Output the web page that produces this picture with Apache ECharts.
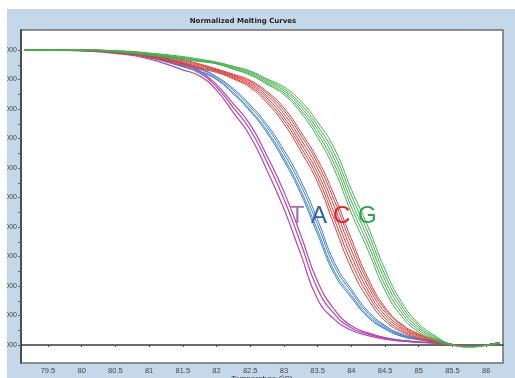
<!DOCTYPE html>
<html>
<head>
<meta charset="utf-8">
<script src="https://cdn.jsdelivr.net/npm/echarts@6.0.0/dist/echarts.min.js"></script>
<style>
  html, body { margin: 0; padding: 0; background: #fff; }
  #chart { width: 515px; height: 378px; }
</style>
</head>
<body>
<div id="chart"></div>
<script>
// temperature grid (°C) shared by every replicate
const temps = [79.15, 79.5, 80, 80.5, 81, 81.5, 81.75, 82, 82.25, 82.5, 82.75, 83, 83.25, 83.5, 83.75, 84, 84.25, 84.5, 84.75, 85, 85.25, 85.5, 85.75, 86, 86.2];

// T replicates (magenta)
const tRep1 = [1.000, 1.000, 0.997, 0.989, 0.970, 0.933, 0.912, 0.864, 0.788, 0.708, 0.592, 0.462, 0.308, 0.155, 0.087, 0.050, 0.032, 0.020, 0.013, 0.009, 0.006, 0.001, -0.005, 0.000, 0.008];
const tRep2 = [1.000, 1.000, 0.998, 0.992, 0.976, 0.945, 0.922, 0.875, 0.805, 0.730, 0.620, 0.495, 0.345, 0.190, 0.105, 0.058, 0.037, 0.023, 0.015, 0.010, 0.006, 0.001, -0.005, 0.000, 0.008];
const tRep3 = [1.000, 1.000, 0.999, 0.994, 0.980, 0.954, 0.929, 0.883, 0.818, 0.747, 0.641, 0.520, 0.373, 0.215, 0.120, 0.065, 0.041, 0.025, 0.016, 0.011, 0.007, 0.001, -0.005, 0.000, 0.008];

// A replicates (blue)
const aRep1 = [1.000, 1.000, 0.998, 0.991, 0.974, 0.943, 0.926, 0.900, 0.851, 0.792, 0.719, 0.625, 0.513, 0.375, 0.240, 0.161, 0.094, 0.054, 0.029, 0.018, 0.009, 0.001, -0.005, 0.000, 0.008];
const aRep2 = [1.000, 1.000, 0.999, 0.992, 0.976, 0.947, 0.929, 0.902, 0.855, 0.797, 0.726, 0.634, 0.524, 0.388, 0.250, 0.168, 0.099, 0.057, 0.031, 0.019, 0.010, 0.001, -0.005, 0.000, 0.008];
const aRep3 = [1.000, 1.000, 0.999, 0.994, 0.979, 0.952, 0.935, 0.907, 0.863, 0.807, 0.738, 0.649, 0.542, 0.408, 0.267, 0.180, 0.107, 0.062, 0.034, 0.021, 0.012, 0.001, -0.005, 0.000, 0.008];
const aRep4 = [1.000, 1.000, 0.999, 0.995, 0.982, 0.957, 0.939, 0.910, 0.869, 0.814, 0.747, 0.661, 0.557, 0.425, 0.280, 0.189, 0.114, 0.066, 0.037, 0.022, 0.013, 0.002, -0.005, 0.000, 0.008];

// C replicates (red)
const cRep1 = [1.000, 1.000, 0.998, 0.991, 0.975, 0.949, 0.936, 0.924, 0.902, 0.873, 0.821, 0.750, 0.657, 0.551, 0.404, 0.260, 0.155, 0.082, 0.044, 0.022, 0.008, 0.001, -0.005, 0.000, 0.008];
const cRep2 = [1.000, 1.000, 0.999, 0.992, 0.978, 0.953, 0.940, 0.927, 0.905, 0.878, 0.829, 0.761, 0.671, 0.567, 0.425, 0.281, 0.170, 0.091, 0.049, 0.025, 0.010, 0.001, -0.005, 0.000, 0.008];
const cRep3 = [1.000, 1.000, 0.999, 0.993, 0.981, 0.956, 0.943, 0.929, 0.909, 0.883, 0.837, 0.772, 0.684, 0.583, 0.446, 0.302, 0.184, 0.101, 0.055, 0.029, 0.012, 0.001, -0.005, 0.000, 0.008];
const cRep4 = [1.000, 1.000, 0.999, 0.995, 0.984, 0.960, 0.947, 0.932, 0.912, 0.888, 0.845, 0.784, 0.698, 0.600, 0.468, 0.322, 0.199, 0.111, 0.060, 0.032, 0.014, 0.002, -0.005, 0.000, 0.008];
const cRep5 = [1.000, 1.000, 1.000, 0.996, 0.986, 0.964, 0.950, 0.934, 0.915, 0.893, 0.853, 0.795, 0.712, 0.616, 0.489, 0.343, 0.213, 0.121, 0.066, 0.035, 0.017, 0.002, -0.005, 0.000, 0.008];
const cRep6 = [1.000, 1.000, 1.000, 0.997, 0.988, 0.967, 0.953, 0.936, 0.918, 0.897, 0.859, 0.804, 0.723, 0.629, 0.506, 0.360, 0.225, 0.128, 0.070, 0.038, 0.018, 0.002, -0.005, 0.000, 0.008];

// G replicates (green)
const gRep1 = [1.000, 1.000, 0.999, 0.994, 0.983, 0.968, 0.961, 0.953, 0.935, 0.915, 0.884, 0.849, 0.788, 0.704, 0.594, 0.448, 0.320, 0.185, 0.096, 0.044, 0.014, 0.000, -0.006, -0.001, 0.008];
const gRep2 = [1.000, 1.000, 1.000, 0.995, 0.984, 0.971, 0.963, 0.954, 0.937, 0.918, 0.888, 0.855, 0.797, 0.717, 0.612, 0.468, 0.340, 0.202, 0.108, 0.051, 0.018, 0.000, -0.006, -0.001, 0.008];
const gRep3 = [1.000, 1.000, 1.000, 0.996, 0.986, 0.973, 0.965, 0.956, 0.940, 0.922, 0.893, 0.862, 0.807, 0.730, 0.630, 0.488, 0.360, 0.220, 0.120, 0.058, 0.022, 0.000, -0.006, -0.001, 0.008];
const gRep4 = [1.000, 1.000, 1.000, 0.997, 0.988, 0.975, 0.967, 0.958, 0.943, 0.926, 0.898, 0.868, 0.817, 0.743, 0.648, 0.508, 0.380, 0.238, 0.132, 0.065, 0.026, 0.001, -0.006, -0.001, 0.008];
const gRep5 = [1.000, 1.000, 1.000, 0.998, 0.990, 0.978, 0.969, 0.959, 0.945, 0.929, 0.902, 0.875, 0.827, 0.756, 0.666, 0.528, 0.400, 0.256, 0.144, 0.073, 0.030, 0.001, -0.006, -0.001, 0.008];

const xTickVals = [79.5, 80, 80.5, 81, 81.5, 82, 82.5, 83, 83.5, 84, 84.5, 85, 85.5, 86];
const yTickVals = [0, 0.1, 0.2, 0.3, 0.4, 0.5, 0.6, 0.7, 0.8, 0.9, 1.0];
const yMinorTickVals = [0.05, 0.15, 0.25, 0.35, 0.45, 0.55, 0.65, 0.75, 0.85, 0.95];

const bases = ['T', 'A', 'C', 'G'];
const baseColors = ['#b444b4', '#3b80cf', '#d8403d', '#44b14e'];
const letterColors = ['#a86fba', '#2c5eae', '#ec1c24', '#28a548'];
const replicates = [
  [tRep1, tRep2, tRep3],
  [aRep1, aRep2, aRep3, aRep4],
  [cRep1, cRep2, cRep3, cRep4, cRep5, cRep6],
  [gRep1, gRep2, gRep3, gRep4, gRep5]
];

const series = [];
replicates.forEach((reps, gi) => {
  reps.forEach((vals, ri) => {
    series.push({
      name: bases[gi] + (ri + 1),
      type: 'line',
      data: temps.map((t, i) => [t, vals[i]]),
      symbol: 'none',
      smooth: 0.5,
      lineStyle: { color: baseColors[gi], width: gi === 0 ? 1.2 : 1 },
      z: 3 + gi
    });
  });
});

// big base letters placed beside their curve bundles
const letterX = [290, 311, 333, 358];
const letterGraphics = bases.map((b, i) => ({
  type: 'text',
  x: letterX[i],
  y: 204,
  z: 50,
  style: {
    text: b,
    fill: letterColors[i],
    fontSize: 24,
    fontFamily: 'Liberation Sans, Arial, sans-serif',
    verticalAlign: 'top'
  }
}));

const chart = echarts.init(document.getElementById('chart'), null, { renderer: 'canvas' });
chart.setOption({
  animation: false,
  backgroundColor: '#c5d8ea',
  title: {
    text: 'Normalized Melting Curves',
    left: 243,
    top: 18,
    textAlign: 'center',
    padding: 0,
    textStyle: { fontSize: 7, fontWeight: 'bold', color: '#222', fontFamily: 'DejaVu Sans' }
  },
  grid: {
    left: 21, right: 12, top: 30, bottom: 15,
    outerBoundsMode: 'none',
    containLabel: false,
    show: true,
    backgroundColor: '#ffffff',
    borderColor: '#6e6e6e',
    borderWidth: 1.5
  },
  xAxis: {
    type: 'value',
    min: 79.1,
    max: 86.25,
    name: 'Temperature (°C)',
    nameLocation: 'middle',
    nameGap: 12,
    nameMoveOverlap: false,
    nameTextStyle: { fontSize: 8, color: '#333', fontFamily: 'Liberation Sans', verticalAlign: 'top' },
    axisLine: { lineStyle: { color: '#3a3a3a', width: 1.5 } },
    axisTick: { show: true, length: 2, customValues: xTickVals, lineStyle: { color: '#555' } },
    axisLabel: {
      customValues: xTickVals,
      margin: 4,
      fontSize: 7.5,
      color: '#444',
      fontFamily: 'Liberation Sans Narrow, Liberation Sans, sans-serif'
    },
    splitLine: { show: false }
  },
  yAxis: {
    type: 'value',
    min: -0.061,
    max: 1.068,
    axisLine: { show: true, lineStyle: { color: '#3a3a3a', width: 1.5 } },
    axisTick: { show: true, length: 3, customValues: yTickVals.concat(yMinorTickVals), lineStyle: { color: '#666' } },
    axisLabel: {
      customValues: yTickVals,
      margin: 4,
      fontSize: 7,
      color: '#444',
      fontFamily: 'Liberation Sans, sans-serif',
      formatter: v => v.toFixed(4)
    },
    splitLine: { show: false }
  },
  graphic: [
    // white margins of the cropped screenshot
    { type: 'rect', z: 100, shape: { x: 0, y: 0, width: 515, height: 9 }, style: { fill: '#ffffff' } },
    { type: 'rect', z: 100, shape: { x: 0, y: 0, width: 7, height: 378 }, style: { fill: '#ffffff' } }
  ].concat(letterGraphics),
  series: series
});
</script>
</body>
</html>
